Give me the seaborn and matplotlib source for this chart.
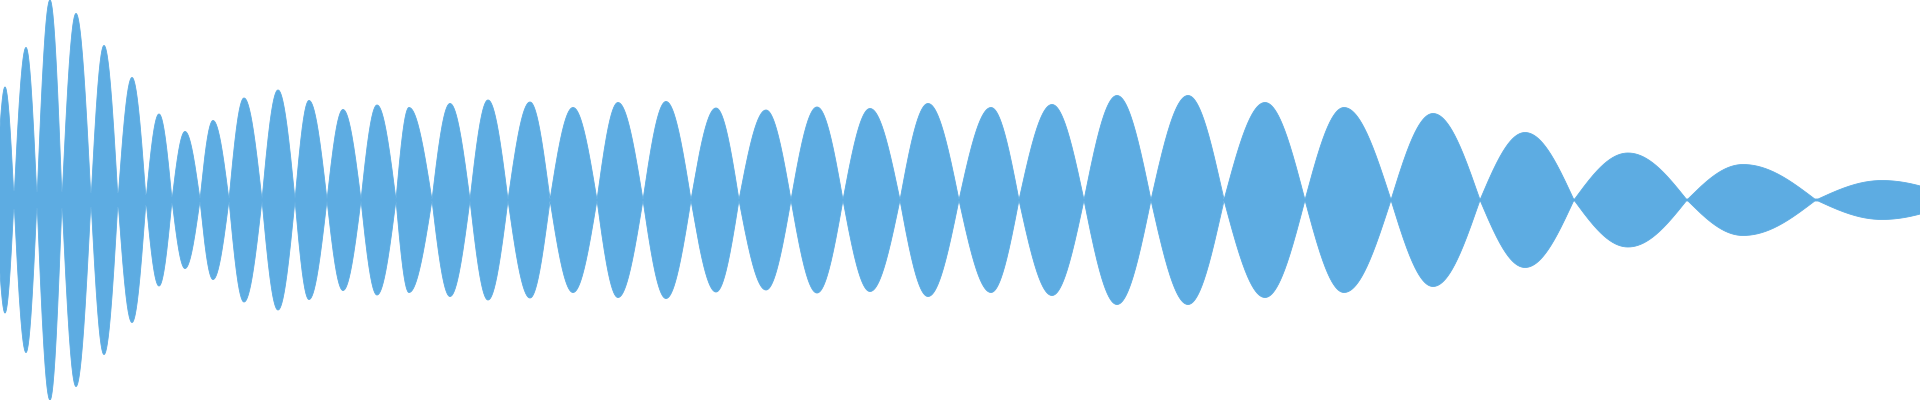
import numpy as np
import pandas as pd
import matplotlib
matplotlib.use("Agg")
import matplotlib.pyplot as plt
import seaborn as sns

# =================== Dữ liệu ===================
# vị trí điểm giao với trục (px theo chiều ngang)
crossings = [-4, 14, 37, 62, 91, 118, 146, 172, 200, 229, 262, 295, 327, 361,
             396, 432, 470, 508, 550, 597, 643, 691, 739, 791, 843, 900, 959,
             1019, 1084, 1151, 1224, 1305, 1391, 1480, 1574, 1687, 1816, 1960]
# vị trí đỉnh của từng búp sóng
peak_pos = [5, 26, 50, 76, 104, 132, 159, 185, 213, 244, 278, 309, 343, 377,
            409, 450, 488, 530, 573, 618, 666, 716, 766, 817, 870, 928, 991,
            1052, 1117, 1188, 1265, 1344, 1433, 1525, 1628, 1743, 1882]
# biên độ (nửa chiều cao) của từng búp sóng
amplitude = [113, 152.5, 200, 186.5, 154.5, 122.5, 86, 68.5, 79.5, 102, 110,
             99.5, 90.5, 95, 92.5, 96.5, 100, 98, 92.5, 97.5, 98.5, 92, 90, 93,
             91.5, 96.5, 92.5, 95.5, 104.5, 104.5, 97.5, 92.5, 86.5, 67.5, 47,
             35.5, 19.5]
# độ dày dải giữa tại các điểm giao
gap = [9, 9, 8, 8, 7, 7, 5, 3, 2.5, 2, 1.5, 1.5, 1.5, 1.5, 1.5, 1.5, 1.5, 1.5,
       1.5, 1.5, 1.5, 1.5, 1.5, 1, 1, 1, 1, 1, 1, 1, 1, 1, 1, 1, 1, 1, 1, 1]

COLOR = "#5DACE2"


def build_envelope():
    x = np.linspace(0, 1920, 7681)
    env = np.zeros_like(x)
    for i, a in enumerate(amplitude):
        c0, c1, p = crossings[i], crossings[i + 1], peak_pos[i]
        left = (x >= c0) & (x <= p)
        right = (x > p) & (x <= c1)
        env[left] = a * np.sin(np.pi / 2 * (x[left] - c0) / (p - c0))
        env[right] = a * np.sin(np.pi / 2 * (c1 - x[right]) / (c1 - p))
    floor = np.interp(x, crossings, gap)
    env = np.maximum(env, floor)
    return pd.DataFrame({"x": x, "upper": env, "lower": -env})


def plot_wave(df):
    sns.set_style("white")
    fig = plt.figure(figsize=(19.2, 4), dpi=100)
    ax = fig.add_axes([0, 0, 1, 1])

    sns.lineplot(data=df, x="x", y="upper", color=COLOR, linewidth=0.6, ax=ax)
    sns.lineplot(data=df, x="x", y="lower", color=COLOR, linewidth=0.6, ax=ax)
    ax.fill_between(df["x"], df["lower"], df["upper"], color=COLOR, linewidth=0)

    ax.set_xlim(0, 1920)
    ax.set_ylim(-200, 200)
    ax.axis("off")
    fig.savefig("out.png", dpi=100, facecolor="white")


if __name__ == "__main__":
    plot_wave(build_envelope())
